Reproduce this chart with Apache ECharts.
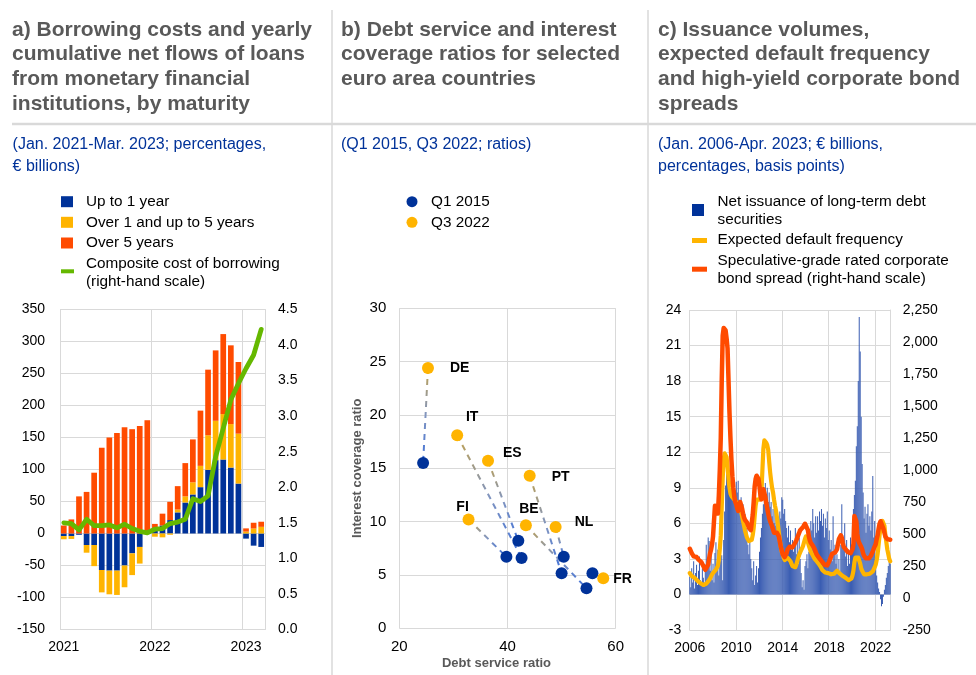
<!DOCTYPE html>
<html><head><meta charset="utf-8">
<script src="https://cdn.jsdelivr.net/npm/echarts@6.0.0/dist/echarts.min.js"></script>
<style>html,body{margin:0;padding:0;background:#fff}#c{width:976px;height:675px}</style>
</head><body><div id="c"></div>
<script>
// ---------------- Panel a data ----------------
const aMonths = ['Jan 2021','Feb 2021','Mar 2021','Apr 2021','May 2021','Jun 2021','Jul 2021','Aug 2021','Sep 2021','Oct 2021','Nov 2021','Dec 2021',
  'Jan 2022','Feb 2022','Mar 2022','Apr 2022','May 2022','Jun 2022','Jul 2022','Aug 2022','Sep 2022','Oct 2022','Nov 2022','Dec 2022',
  'Jan 2023','Feb 2023','Mar 2023'];
const aUpTo1 = [-4,-4,-2,-18,-18,-57,-58,-58,-50,-31,-21,0,
  6,12.5,21,33,48.4,61,72.4,99.5,114.6,115.6,103,78,
  -8,-19,-21];
const aOver1to5 = [-5,-4.5,0,-12,-33,-35,-37,-38,-34,-34,-26,0,
  -5,-6,-2,4.5,9.6,19,33.3,54,61.5,71,68,78,
  3,7.8,10.4];
const aOver5 = [12.5,22,58,65,95,134,150,157,166,163,168,177,
  9,18.5,28.5,36.5,52,67,86.3,102.5,110,125,123,112,
  5,9,8];
const aCost = [1.50,1.49,1.40,1.55,1.46,1.46,1.47,1.43,1.48,1.42,1.38,1.36,
  1.41,1.42,1.49,1.51,1.55,1.84,1.80,1.88,2.43,2.83,3.23,3.46,
  3.67,3.86,4.22];

// ---------------- Panel b data ----------------
const bCountries = ['DE','IT','ES','PT','FI','BE','NL','FR'];
const bDsr2015 = [24.4,42.6,42.0,50.0,39.8,54.6,50.4,55.7];
const bIcr2015 = [15.5,6.6,8.2,5.15,6.7,3.75,6.7,5.15];
const bDsr2022 = [25.3,30.7,36.4,44.1,32.8,43.4,48.9,57.7];
const bIcr2022 = [24.4,18.1,15.7,14.3,10.2,9.65,9.5,4.7];

// ---------------- Panel c data (monthly, Jan 2006 - Apr 2023) ----------------
const cIssuance = [
  1.5,0.6,2.2,1.0,2.8,0.5,1.8,2.5,0.8,2.0,3.2,1.2,
  1.0,2.2,1.4,0.7,2.5,4.2,3.0,4.8,4.5,2.0,3.8,1.2,
  2.6,1.0,3.5,4.4,2.5,3.8,1.6,4.2,2.8,3.3,1.2,4.6,
  7.0,9.2,10.5,11.0,9.8,9.4,8.8,9.0,8.5,9.2,8.2,8.8,
  9.5,8.6,9.6,8.0,7.4,8.2,7.0,7.6,6.0,6.8,5.0,5.6,
  4.2,3.4,4.6,3.0,2.2,1.2,2.8,0.8,1.6,2.4,1.0,2.2,
  3.6,4.8,5.6,6.8,7.6,8.8,9.4,8.4,9.0,7.8,8.6,7.4,
  7.8,6.6,7.2,6.0,7.4,5.8,6.8,6.2,5.6,7.0,6.4,8.2,
  8.0,6.8,7.2,6.2,5.6,4.8,5.8,4.4,5.4,3.8,4.6,3.6,
  4.4,5.6,3.4,5.2,2.6,4.8,3.0,1.8,0.6,1.2,0.4,2.4,
  2.8,3.4,2.2,3.6,4.6,6.2,5.4,7.2,6.0,4.8,6.6,5.2,
  6.6,5.4,7.0,6.2,7.2,5.8,6.8,4.8,6.4,5.6,7.0,4.6,
  5.4,3.8,4.6,2.8,6.6,3.6,4.2,2.6,3.4,2.0,3.0,1.6,
  4.2,7.6,5.0,4.0,6.0,3.2,4.6,2.4,3.8,2.6,4.8,3.4,
  5.8,7.2,8.4,9.6,12.5,14.2,18.0,23.4,20.5,15.0,11.0,8.6,
  6.4,7.4,5.2,6.8,7.6,5.8,6.6,5.4,7.0,10.0,4.8,6.2,
  2.4,1.6,1.0,0.5,0.2,-0.4,-1.0,-0.8,-0.2,0.4,0.8,1.4,
  1.8,2.4,3.0,2.6];
const cEdf = [
  1.8,1.65,1.55,1.5,1.45,1.4,1.35,1.25,1.15,1.05,1.0,0.95,
  0.9,0.85,0.8,0.78,0.8,0.9,1.0,1.1,1.2,1.35,1.5,1.7,
  1.8,1.9,2.0,2.1,2.2,2.4,2.9,3.8,5.0,7.4,9.8,11.4,
  11.9,12.0,11.6,10.8,9.8,9.0,8.5,8.3,8.2,8.1,8.0,7.9,
  7.8,7.7,7.6,7.5,7.3,7.0,6.6,6.2,5.8,5.4,5.1,4.8,
  4.7,4.5,4.4,4.4,4.6,5.0,5.6,6.6,7.5,8.0,8.1,8.1,
  8.0,8.2,8.6,10.5,12.3,13.0,13.0,12.8,12.6,12.2,11.2,10.3,
  9.6,9.0,8.6,8.0,7.5,7.1,6.5,5.9,5.2,4.6,4.0,3.6,
  3.4,3.1,2.9,2.9,3.0,3.1,3.1,3.0,2.8,2.6,2.4,2.3,
  2.25,2.3,2.5,2.8,3.1,3.35,3.55,3.7,3.9,4.1,4.4,4.7,
  4.9,4.7,4.4,4.1,3.85,3.6,3.45,3.3,3.15,3.0,2.9,2.8,
  2.7,2.6,2.5,2.35,2.2,2.05,1.95,1.9,1.85,1.85,1.8,1.8,
  1.8,1.75,1.7,1.7,1.7,1.75,1.8,1.9,2.0,1.95,1.85,1.75,
  1.7,1.6,1.55,1.5,1.45,1.4,1.3,1.25,1.2,1.2,1.25,1.35,
  1.6,2.0,2.7,3.1,3.2,3.1,3.1,3.0,2.6,2.2,2.0,1.85,
  1.7,1.65,1.65,1.7,1.7,1.7,1.75,1.8,1.85,1.95,2.1,2.3,
  2.5,2.9,3.4,4.2,5.0,5.6,6.0,6.2,6.2,5.8,5.0,4.4,
  3.8,3.4,3.0,2.8];
const cSpread = [
  385,370,350,335,325,330,325,320,310,300,295,290,
  280,265,250,235,220,210,230,260,310,350,380,420,
  480,600,720,720,700,660,800,1000,1250,1700,2050,2110,
  2120,2090,2030,1950,1700,1450,1250,1080,950,860,790,750,
  730,700,680,700,750,740,700,660,630,610,600,590,
  570,550,535,530,540,650,750,870,930,955,965,930,
  870,800,770,820,850,840,790,740,700,660,625,600,
  580,560,535,510,500,520,510,500,480,440,400,370,
  340,325,320,330,350,380,395,400,395,390,395,405,
  420,430,450,470,490,510,530,540,545,555,570,580,
  590,580,530,480,450,430,420,410,395,380,360,340,
  335,320,310,300,290,280,270,260,255,250,255,265,
  285,300,325,345,355,360,355,350,380,420,460,475,
  490,470,430,400,390,380,370,360,355,350,350,355,
  380,420,640,640,600,500,450,430,420,400,380,350,
  330,320,310,305,305,310,320,330,345,365,385,400,
  420,460,490,540,580,600,580,560,540,510,480,470,
  460,455,460,455];
const cMonths = [];
for (let y = 2006; cMonths.length < cIssuance.length; y++) {
  for (let m = 1; m <= 12 && cMonths.length < cIssuance.length; m++) cMonths.push(y + '-' + (m < 10 ? '0' + m : m));
}

// ---------------- styling ----------------
const FONT = 'Arial, "Liberation Sans", sans-serif';
const GRID = '#d9d9d9';
const BLUE = '#003299', YELLOW = '#FFB400', ORANGE = '#FF4B00', GREEN = '#65B800';
const TITLE = '#595959';
const LEG = 15.3;
const lab = (o) => Object.assign({color:'#000', fontSize:14, fontFamily:FONT}, o || {});
const split = {lineStyle:{color:GRID, width:1}};

// label placements for panel b country labels (style only)
const bLabelPlace = {
  DE:{pos:[28,6], align:'left'}, IT:{pos:[21,-12], align:'center'}, ES:{pos:[21,-2], align:'left'},
  PT:{pos:[28,7], align:'left'}, FI:{pos:[0,-6], align:'center'}, BE:{pos:[9,-10], align:'center'},
  NL:{pos:[25,1], align:'left'}, FR:{pos:[16,7], align:'left'}
};

const chart = echarts.init(document.getElementById('c'));

const txt = (x, y, text, o) => ({type:'text', x:x, y:y, silent:true,
  style:Object.assign({text:text, fill:'#000', fontSize:LEG, fontFamily:FONT, align:'left', verticalAlign:'middle'}, o || {})});
const rect = (x, y, w, h, c) => ({type:'rect', silent:true, shape:{x:x, y:y, width:w, height:h}, style:{fill:c}});
const line = (x1, y1, x2, y2, w) => ({type:'line', silent:true, shape:{x1:x1, y1:y1, x2:x2, y2:y2}, style:{stroke:GRID, lineWidth:w}});
const titleStyle = {fontSize:21, fontWeight:'bold', fill:TITLE, lineHeight:24.7, verticalAlign:'top'};
const subStyle = {fontSize:16, fill:BLUE, lineHeight:21.7, verticalAlign:'top'};

const graphic = [
  line(332, 10, 332, 675, 1.5), line(648, 10, 648, 675, 1.5), line(12, 124, 976, 124, 2.5),
  txt(12, 17.6, 'a) Borrowing costs and yearly\ncumulative net flows of loans\nfrom monetary financial\ninstitutions, by maturity', titleStyle),
  txt(341, 17.6, 'b) Debt service and interest\ncoverage ratios for selected\neuro area countries', titleStyle),
  txt(658, 17.6, 'c) Issuance volumes,\nexpected default frequency\nand high-yield corporate bond\nspreads', titleStyle),
  txt(12.6, 134.2, '(Jan. 2021-Mar. 2023; percentages,\n€ billions)', subStyle),
  txt(341, 134.2, '(Q1 2015, Q3 2022; ratios)', subStyle),
  txt(658, 134.2, '(Jan. 2006-Apr. 2023; € billions,\npercentages, basis points)', subStyle),
  // legend a
  rect(61, 196.2, 12, 11, BLUE), txt(86, 201.7, 'Up to 1 year'),
  rect(61, 216.8, 12, 11, YELLOW), txt(86, 222.3, 'Over 1 and up to 5 years'),
  rect(61, 237.5, 12, 11, ORANGE), txt(86, 243, 'Over 5 years'),
  rect(61, 269.3, 13, 4, GREEN), txt(86, 254.2, 'Composite cost of borrowing\n(right-hand scale)', {lineHeight:18.2, verticalAlign:'top'}),
  // legend b
  {type:'circle', silent:true, shape:{cx:412, cy:201.7, r:5.5}, style:{fill:BLUE}}, txt(431, 201.7, 'Q1 2015'),
  {type:'circle', silent:true, shape:{cx:412, cy:222.3, r:5.5}, style:{fill:YELLOW}}, txt(431, 222.3, 'Q3 2022'),
  // legend c
  rect(692, 204, 12, 12, BLUE), txt(717.5, 192.6, 'Net issuance of long-term debt\nsecurities', {lineHeight:18.3, verticalAlign:'top'}),
  rect(692, 238, 15, 5, YELLOW), txt(717.5, 240, 'Expected default frequency'),
  rect(692, 266.7, 15, 5, ORANGE), txt(717.5, 251.6, 'Speculative-grade rated corporate\nbond spread (right-hand scale)', {lineHeight:18.3, verticalAlign:'top'})
];

// panel b connecting dashed lines
const bLines = bCountries.map((c, i) => {
  const horiz = c === 'FR';
  const grad = new echarts.graphic.LinearGradient(horiz ? 1 : 0, 0, 0, horiz ? 0 : 1, [
    {offset:0, color:'#C4A24A'}, {offset:0.5, color:'#8195C0'}, {offset:1, color:'#3C6FDB'}]);
  return {type:'line', name:c + ' link', xAxisIndex:1, yAxisIndex:2, symbol:'none', silent:true, z:1,
    data:[[bDsr2022[i], bIcr2022[i]], [bDsr2015[i], bIcr2015[i]]],
    lineStyle:{color:grad, width:2, type:[6,5]}};
});

const option = {
  animation:false,
  backgroundColor:'#fff',
  textStyle:{fontFamily:FONT},
  graphic:graphic,
  grid:[
    {left:60, top:309.5, width:205, height:320, containLabel:false, outerBoundsMode:'none'},
    {left:399.3, top:308.3, width:216.4, height:320, containLabel:false, outerBoundsMode:'none'},
    {left:689.3, top:310, width:201.4, height:320, containLabel:false, outerBoundsMode:'none'}
  ],
  xAxis:[
    {type:'category', gridIndex:0, data:aMonths, axisLine:{show:false}, axisTick:{show:false},
      axisLabel:lab({interval:(i) => i % 12 === 0, formatter:(v) => v.slice(-4), margin:11}),
      splitLine:{show:true, interval:(i) => i % 12 === 0, lineStyle:{color:GRID}}},
    {type:'value', gridIndex:1, min:20, max:60, interval:20, axisLine:{show:false}, axisTick:{show:false},
      axisLabel:lab({fontSize:15, margin:11}), splitLine:split,
      name:'Debt service ratio', nameLocation:'middle', nameGap:29,
      nameTextStyle:{fontWeight:'bold', color:TITLE, fontSize:13, fontFamily:FONT, padding:[0,22,0,0]}},
    {type:'category', gridIndex:2, data:cMonths, axisLine:{show:false}, axisTick:{show:false},
      axisLabel:lab({interval:(i) => i % 48 === 0, formatter:(v) => v.slice(0,4), margin:11}),
      splitLine:{show:true, interval:(i) => i % 48 === 0, lineStyle:{color:GRID}}}
  ],
  yAxis:[
    {type:'value', gridIndex:0, min:-150, max:350, interval:50, axisLine:{show:false}, axisTick:{show:false},
      axisLabel:lab({margin:15}), splitLine:split},
    {type:'value', gridIndex:0, position:'right', min:0, max:4.5, interval:0.5,
      axisLine:{show:true, lineStyle:{color:GRID}}, axisTick:{show:false}, splitLine:{show:false},
      axisLabel:lab({margin:13, formatter:(v) => v.toFixed(1)})},
    {type:'value', gridIndex:1, min:0, max:30, interval:5, axisLine:{show:false}, axisTick:{show:false},
      axisLabel:lab({fontSize:15, margin:13}), splitLine:split,
      name:'Interest coverage ratio', nameLocation:'middle', nameGap:35, nameRotate:90,
      nameTextStyle:{fontWeight:'bold', color:TITLE, fontSize:13, fontFamily:FONT}},
    {type:'value', gridIndex:2, min:-3, max:24, interval:3, axisLine:{show:false}, axisTick:{show:false},
      axisLabel:lab({margin:8}), splitLine:split},
    {type:'value', gridIndex:2, position:'right', min:-250, max:2250, interval:250,
      axisLine:{show:true, lineStyle:{color:GRID}}, axisTick:{show:false}, splitLine:{show:false},
      axisLabel:lab({margin:12, formatter:(v) => v.toLocaleString('en-US')})}
  ],
  series:[
    // panel a
    {type:'bar', name:'Up to 1 year', xAxisIndex:0, yAxisIndex:0, stack:'a', data:aUpTo1, itemStyle:{color:BLUE}, barCategoryGap:'25%'},
    {type:'bar', name:'Over 1 and up to 5 years', xAxisIndex:0, yAxisIndex:0, stack:'a', data:aOver1to5, itemStyle:{color:YELLOW}},
    {type:'bar', name:'Over 5 years', xAxisIndex:0, yAxisIndex:0, stack:'a', data:aOver5, itemStyle:{color:ORANGE}},
    {type:'line', name:'Composite cost of borrowing', xAxisIndex:0, yAxisIndex:1, data:aCost, symbol:'none',
      lineStyle:{color:GREEN, width:4.8, cap:'round', join:'round'}, z:5},
    // panel b
    ...bLines,
    {type:'scatter', name:'Q1 2015', xAxisIndex:1, yAxisIndex:2, symbolSize:12, z:3,
      itemStyle:{color:BLUE, opacity:1}, data:bDsr2015.map((x, i) => [x, bIcr2015[i]])},
    {type:'scatter', name:'Q3 2022', xAxisIndex:1, yAxisIndex:2, symbolSize:12, z:4,
      itemStyle:{color:YELLOW, opacity:1},
      data:bDsr2022.map((x, i) => {
        const p = bLabelPlace[bCountries[i]];
        return {value:[x, bIcr2022[i]], label:{show:true, formatter:bCountries[i], position:p.pos, align:p.align,
          verticalAlign:'middle', fontWeight:'bold', fontSize:14, color:'#000', fontFamily:FONT}};
      })},
    // panel c
    {type:'bar', name:'Net issuance of long-term debt securities', xAxisIndex:2, yAxisIndex:3, data:cIssuance,
      itemStyle:{color:'#3A5DB2'}, barCategoryGap:'8%'},
    {type:'line', name:'Expected default frequency', xAxisIndex:2, yAxisIndex:3, data:cEdf, symbol:'none',
      lineStyle:{color:YELLOW, width:4.2, cap:'round', join:'round'}, z:4},
    {type:'line', name:'Speculative-grade rated corporate bond spread', xAxisIndex:2, yAxisIndex:4, data:cSpread, symbol:'none',
      lineStyle:{color:ORANGE, width:4.5, cap:'round', join:'round'}, z:5}
  ]
};
chart.setOption(option);
</script>
</body></html>
